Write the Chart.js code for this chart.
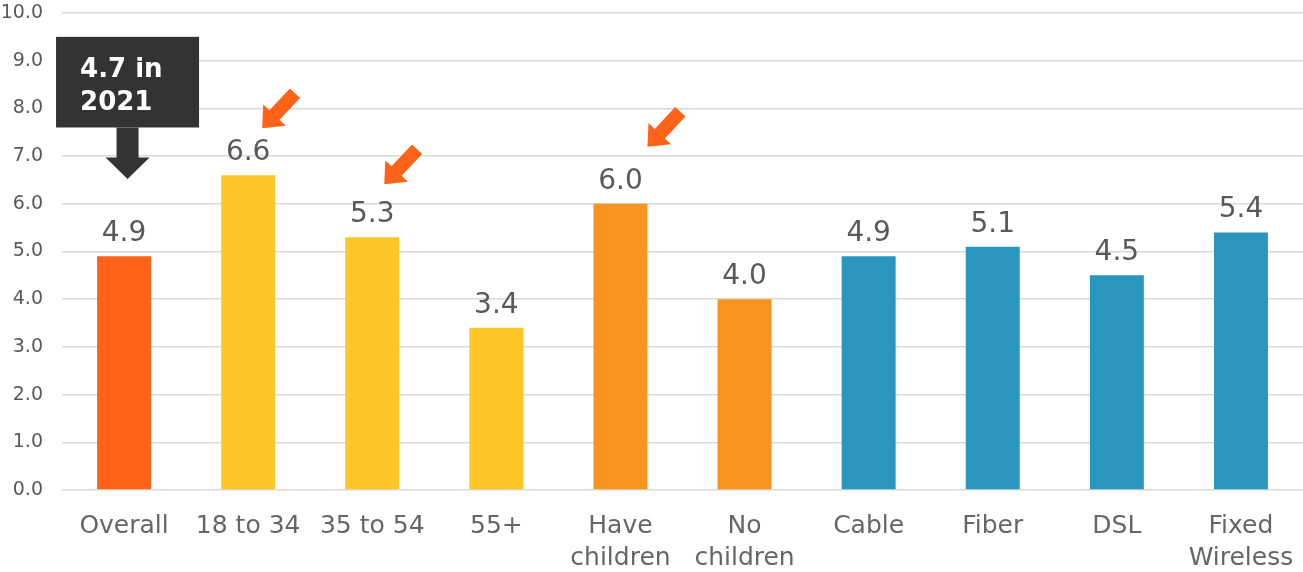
<!DOCTYPE html>
<html>
<head>
<meta charset="utf-8">
<script src="https://cdn.jsdelivr.net/npm/chart.js@4.4.1/dist/chart.umd.min.js"></script>
<style>
  html, body { margin: 0; padding: 0; background: #fff; }
  #wrap { width: 1303px; height: 572px; position: relative; }
</style>
</head>
<body>
<div id="wrap"><canvas id="chart"></canvas></div>
<script>
// Categories and values
const categories = ['Overall', '18 to 34', '35 to 54', '55+', ['Have', 'children'], ['No', 'children'], 'Cable', 'Fiber', 'DSL', ['Fixed', 'Wireless']];
const values = [4.9, 6.6, 5.3, 3.4, 6.0, 4.0, 4.9, 5.1, 4.5, 5.4];
const barColors = ['#FF6319', '#FFC629', '#FFC629', '#FFC629', '#F7931E', '#F7931E', '#2A96BD', '#2A96BD', '#2A96BD', '#2A96BD'];

// Last year's figure, shown as a callout over the first bar
const priorNote = ['4.7 in', '2021'];
// Bars flagged with an orange arrow
const flagged = [1, 2, 4];

const FONT = '"DejaVu Sans", sans-serif';

// pixel offsets of the flag arrows' tips from each bar's top
const flagTips = { 1: { dx: 14, dy: -47 }, 2: { dx: 12, dy: -53 }, 4: { dx: 27, dy: -57 } };

function drawFlagArrow(ctx, tipX, tipY) {
    // arrow pointing down-left
    const ang = Math.atan2(33, -31);
    const ux = Math.cos(ang), uy = Math.sin(ang);
    const nx = -uy, ny = ux;
    const len = 48, headLen = 18, headW = 31, shaftW = 14;
    const bx = tipX - ux * headLen, by = tipY - uy * headLen;
    const tx = tipX - ux * len, ty = tipY - uy * len;
    ctx.beginPath();
    ctx.moveTo(tipX, tipY);
    ctx.lineTo(bx + nx * headW / 2, by + ny * headW / 2);
    ctx.lineTo(bx + nx * shaftW / 2, by + ny * shaftW / 2);
    ctx.lineTo(tx + nx * shaftW / 2, ty + ny * shaftW / 2);
    ctx.lineTo(tx - nx * shaftW / 2, ty - ny * shaftW / 2);
    ctx.lineTo(bx - nx * shaftW / 2, by - ny * shaftW / 2);
    ctx.lineTo(bx - nx * headW / 2, by - ny * headW / 2);
    ctx.closePath();
    ctx.fillStyle = '#FF6319';
    ctx.fill();
}

const overlays = {
    id: 'overlays',
    afterDatasetsDraw(chart) {
        const ctx = chart.ctx;
        const meta = chart.getDatasetMeta(0);
        const y = chart.scales.y;
        ctx.save();

        // value labels
        ctx.font = '28px ' + FONT;
        ctx.fillStyle = '#595959';
        ctx.textAlign = 'center';
        ctx.textBaseline = 'alphabetic';
        meta.data.forEach((bar, i) => {
            ctx.fillText(values[i].toFixed(1), bar.x, bar.y - 15);
        });

        // orange flags
        flagged.forEach(i => {
            const bar = meta.data[i];
            const t = flagTips[i];
            drawFlagArrow(ctx, bar.x + t.dx, bar.y + t.dy);
        });

        // dark callout with down arrow
        const cx = meta.data[0].x + 3.5;
        const boxTop = y.getPixelForValue(9.5);
        const boxBottom = y.getPixelForValue(7.6);
        const boxW = 143;
        ctx.fillStyle = '#333333';
        ctx.fillRect(cx - boxW / 2, boxTop, boxW, boxBottom - boxTop);
        const tipY = y.getPixelForValue(6.52);
        const headTop = boxBottom + 30;
        ctx.beginPath();
        ctx.moveTo(cx - 11, boxBottom);
        ctx.lineTo(cx + 11, boxBottom);
        ctx.lineTo(cx + 11, headTop);
        ctx.lineTo(cx + 22, headTop);
        ctx.lineTo(cx, tipY);
        ctx.lineTo(cx - 22, headTop);
        ctx.lineTo(cx - 11, headTop);
        ctx.closePath();
        ctx.fill();

        ctx.font = 'bold 26px ' + FONT;
        ctx.fillStyle = '#ffffff';
        ctx.textAlign = 'left';
        ctx.fillText(priorNote[0], cx - boxW / 2 + 24, boxTop + 40);
        ctx.fillText(priorNote[1], cx - boxW / 2 + 24, boxTop + 73);
        ctx.restore();
    }
};

new Chart(document.getElementById('chart'), {
    type: 'bar',
    data: {
        labels: categories,
        datasets: [{
            data: values,
            backgroundColor: barColors,
            borderWidth: 0,
            barPercentage: 0.435,
            categoryPercentage: 1
        }]
    },
    options: {
        responsive: true,
        maintainAspectRatio: false,
        animation: false,
        layout: { padding: { top: 13, right: 0, bottom: 0, left: 0 } },
        plugins: {
            legend: { display: false },
            tooltip: { enabled: false }
        },
        scales: {
            x: {
                grid: { display: false, drawTicks: false },
                border: { display: false },
                ticks: {
                    color: '#666666',
                    font: { family: FONT, size: 25, lineHeight: 1.3 },
                    padding: 20,
                    maxRotation: 0,
                    autoSkip: false
                },
                afterFit(s) {
                    s.height = 82;
                    s.paddingLeft = 0;
                    s.paddingRight = 0;
                }
            },
            y: {
                min: 0,
                max: 10,
                grid: { color: '#d9d9d9', lineWidth: 1.5, drawTicks: false },
                border: { display: false },
                ticks: {
                    stepSize: 1,
                    color: '#595959',
                    font: { family: FONT, size: 19 },
                    padding: 19,
                    callback: v => v.toFixed(1)
                },
                afterFit(s) {
                    s.width = 62;
                    s.paddingTop = 0;
                    s.paddingBottom = 0;
                }
            }
        }
    },
    plugins: [overlays]
});
</script>
</body>
</html>
